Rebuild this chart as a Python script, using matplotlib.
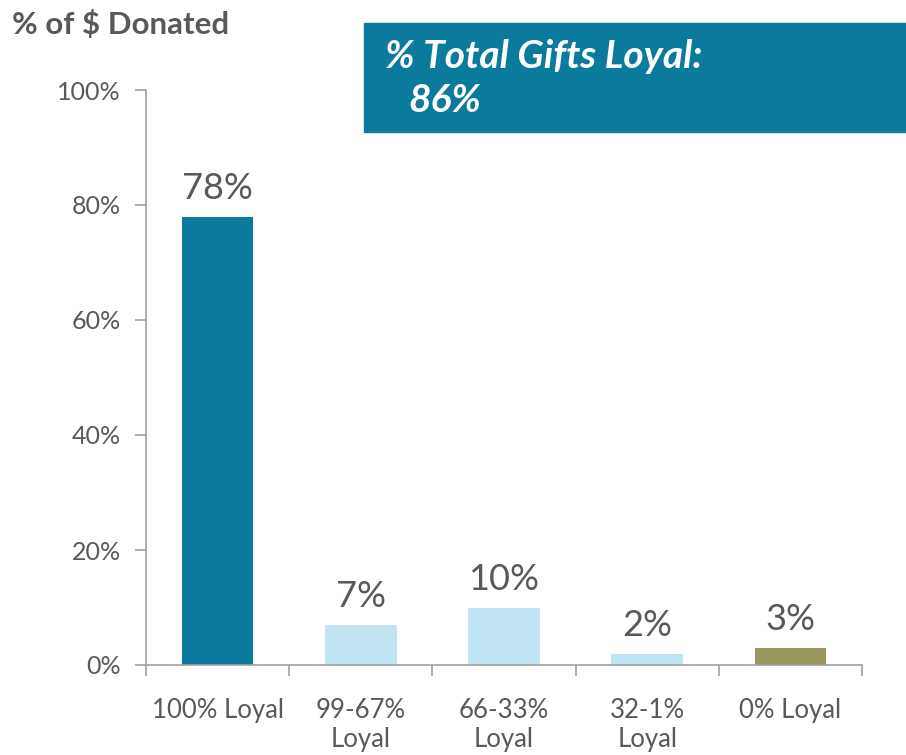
import numpy as np
import matplotlib.pyplot as plt
from matplotlib.patches import Rectangle

categories = ["100% Loyal", "99-67%\nLoyal", "66-33%\nLoyal", "32-1%\nLoyal", "0% Loyal"]
values     = [78, 7, 10, 2, 3]
bar_colors = ["#0B7B9D", "#C0E4F2", "#C0E4F2", "#C0E4F2", "#9A9660"]
value_labels = ["78%", "7%", "10%", "2%", "3%"]
y_ticks = [0, 20, 40, 60, 80, 100]
box_line1 = "% Total Gifts Loyal:"
box_line2 = "86%"

txt = "#595959"
plt.rcParams['font.family'] = ['Lato', 'DejaVu Sans']

fig = plt.figure(figsize=(9.06, 7.55), dpi=100)
ax = fig.add_axes([146 / 906, 1 - 665 / 755, 716 / 906, 575 / 755])

x = np.arange(len(categories))
ax.bar(x, values, width=0.5, color=bar_colors, zorder=2)
for xi, v, lab in zip(x, values, value_labels):
    ax.text(xi, v + 2, lab, ha="center", va="bottom", fontsize=26, color=txt)

ax.set_xlim(-0.5, len(categories) - 0.5)
ax.set_ylim(0, 100)
ax.set_yticks(y_ticks)
ax.set_yticklabels([f"{t}%" for t in y_ticks], fontsize=18, color=txt)
ax.set_xticks(x)
ax.set_xticklabels(categories, fontsize=18.5, color=txt, linespacing=1.2)
ax.tick_params(axis="x", length=0, pad=24)
ax.set_xticks(np.arange(-0.5, len(categories)), minor=True)
ax.tick_params(axis="x", which="minor", length=8, color="#A0A0A0", width=1.2)
ax.tick_params(axis="y", length=8, color="#A0A0A0", width=1.2, pad=10)
for s in ["top", "right"]:
    ax.spines[s].set_visible(False)
for s in ["left", "bottom"]:
    ax.spines[s].set_color("#A0A0A0")
    ax.spines[s].set_linewidth(1.2)

fig.text(12 / 906, 1 - 24 / 755, "% of $ Donated", fontsize=22.5, fontweight="bold",
         color=txt, va="center", ha="left")

fig.patches.append(Rectangle((364 / 906, 1 - 132 / 755), 542 / 906, 109 / 755,
                             transform=fig.transFigure, color="#0B7B9D", zorder=0))
fig.text(385 / 906, 1 - 57 / 755, box_line1, fontsize=28, fontweight="bold", style="italic",
         color="white", va="center", ha="left")
fig.text(408 / 906, 1 - 101 / 755, box_line2, fontsize=28, fontweight="bold", style="italic",
         color="white", va="center", ha="left")

fig.savefig("out.png", dpi=100)
